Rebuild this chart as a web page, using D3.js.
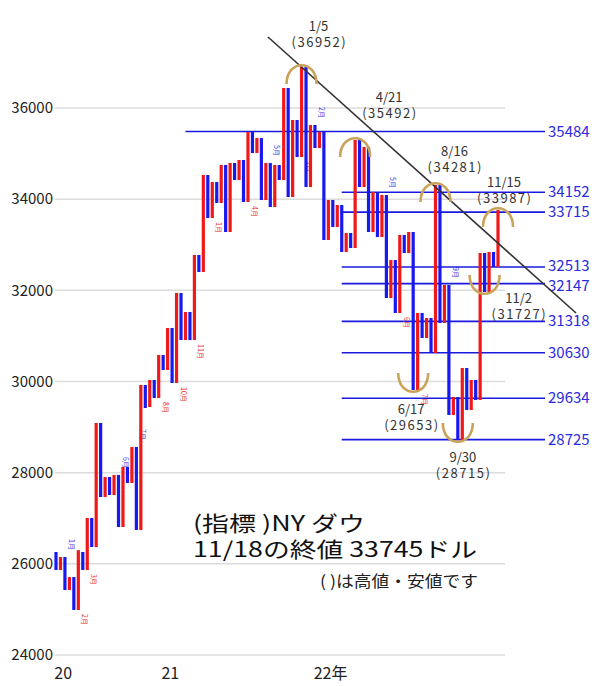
<!DOCTYPE html>
<html><head><meta charset="utf-8">
<script src="https://cdn.jsdelivr.net/npm/d3@7"></script>
<style>body{margin:0;background:#fff}svg{display:block}</style>
</head><body><svg id="c" width="600" height="686"></svg>
<script>
// bar colours: B = down leg (blue), R = up leg (red)
const barType = ["B","R","B","R","B","R","B","R","B","R","B","R","B","R","B","R","B","R","B","R",
"B","R","B","R","B","R","B","R","B","R","B","R","B","R","B","R","B","R","B","R",
"B","R","B","R","B","R","B","R","B","R","B","R","B","R","B","R","B","R","B","R",
"B","R","B","R","B","R","B","R","B","R","B","R","B","R","B","R","B","R","B","R",
"B","R","B","R","B","R","B","R","B","R","B","R","B","R","B","R","B","R","B","R"];
const barHigh = [26260,26150,26150,25710,25710,26300,26260,27005,27005,29090,
29090,27905,27905,27950,27950,28124,28124,28563,28563,29923,
29923,30033,30033,30581,30581,31174,31174,31941,31941,31525,
31525,32775,32775,34530,34530,34377,34377,34750,34750,34793,
34793,34859,34859,35473,35473,35342,35342,34793,34793,34750,
34750,36439,36439,35737,35737,36900,36900,35627,35627,35473,
35473,33982,33982,33872,33872,33258,33258,35298,35298,35144,
35144,34157,34157,34091,34091,32665,32665,33214,33214,33280,
33280,31503,31503,31393,31393,34311,34311,32117,32117,29660,
29660,30296,30296,30033,30033,32819,32819,32841,32841,33762];
const barLow = [25865,25865,25426,25426,24987,24987,25865,25865,26369,26369,
27466,27466,27510,27510,26808,26808,27773,27773,26742,26742,
29419,29441,29638,29638,30252,30252,29967,29967,30910,30910,
30910,30910,32402,32402,33587,33587,33916,33916,33280,33280,
34420,34420,33938,33938,35013,35013,33982,33982,33828,33828,
34420,34420,34047,34047,34925,34925,34267,34267,35122,35122,
33104,33104,33389,33389,32841,32841,32929,32929,34267,34267,
33280,33280,33170,33170,31832,31832,31503,31503,32819,32819,
29813,29813,30954,30954,30625,30625,31283,31283,29265,29265,
28717,28717,29375,29375,29594,29594,31963,31963,32512,32512];

// small month markers written along some bars (bar index, text)
const markIdx = [2,5,7,14,18,23,27,31,35,43,48,55,58,74,77,81,88];
const markText = ["1月","2月","3月","6月","7月","8月","10月","11月","1月","4月","5月","1月","2月","5月","6月","7月","9月"];

const yTicks = [24000,26000,28000,30000,32000,34000,36000];
const xLabels = ["20","21","22年"];
const xLabelPos = [1.6, 25.6, 61.5];

const levels = [35484,34152,33715,32513,32147,31318,30630,29634,28725];
const levelStart = [29,64,64,64,64,64,64,64,64];

const peakLabels = ["1/5","4/21","8/16","11/15"];
const peakValues = ["(36952)","(35492)","(34281)","(33987)"];
const peakIdx = [55,67,85,99];
const troughLabels = ["6/17","9/30","11/2"];
const troughValues = ["(29653)","(28715)","(31727)"];
const troughIdx = [80,90,96];

const titleLines = ["(指標 )NY ダウ","11/18の終値 33745ドル"];
const titleWidths = [172, 284];
const noteText = "( )は高値・安値です";

const svg = d3.select("#c");
const x = d3.scaleLinear().domain([0, 99]).range([56, 498]);
const y = d3.scaleLinear().domain([24000, 36000]).range([655, 108]);
const font = "'Noto Sans CJK JP','Noto Sans',sans-serif";

// grid
svg.append("g").selectAll("line").data(yTicks).join("line")
  .attr("x1", 55).attr("x2", 505).attr("y1", d=>y(d)).attr("y2", d=>y(d))
  .attr("stroke", "#dcdcdc").attr("stroke-width", 1.5);

// y axis
const ya = d3.axisLeft(y).tickValues(yTicks).tickSize(0).tickPadding(0).tickFormat(d3.format("d"));
const yg = svg.append("g").attr("transform","translate(53,0)").call(ya);
yg.select(".domain").remove();
yg.selectAll("text").attr("font-family", font).attr("font-size", 15).attr("fill","#222");

// x labels
svg.append("g").selectAll("text").data(xLabels).join("text")
  .attr("x", (d,i)=>x(xLabelPos[i])).attr("y", 679).attr("text-anchor","middle")
  .attr("font-family", font).attr("font-size", 16).attr("fill","#222").text(d=>d);

// level lines
const lv = svg.append("g");
lv.selectAll("line").data(levels).join("line")
  .attr("x1",(d,i)=>x(levelStart[i])).attr("x2",545)
  .attr("y1",d=>y(d)).attr("y2",d=>y(d))
  .attr("stroke","#1a1adf").attr("stroke-width",1.6);
lv.selectAll("text").data(levels).join("text")
  .attr("x",548).attr("y",(d,i)=>y(d)+5 + (i===3?-1:0) + (i===4?2:0)).attr("font-family",font).attr("font-size",15)
  .attr("fill","#2a2ae0").text(d=>d);

// month markers (tiny vertical text)
const mk = svg.append("g").attr("font-family",font).attr("font-size",7);
markIdx.forEach((k,i)=>{
  const red = barType[k]==="R";
  const px = x(k) + 4, py = red ? y(barLow[k]) + 4 : y(barHigh[k]) - 4 - markText[i].length*7;
  mk.append("text").attr("transform",`translate(${px},${py}) rotate(90)`)
    .attr("fill", red ? "#e83030" : "#3a3ae8").text(markText[i]);
});

// bars
svg.append("g").selectAll("rect").data(barHigh).join("rect")
  .attr("x",(d,i)=>x(i)-1.6).attr("width",3.2)
  .attr("y",(d,i)=>y(d)).attr("height",(d,i)=>Math.max(1,y(barLow[i])-y(d)))
  .attr("fill",(d,i)=>barType[i]==="R"?"#f01818":"#1818f0");

// trend line
svg.append("line").attr("x1",268).attr("y1",37).attr("x2",576).attr("y2",313)
  .attr("stroke","#333").attr("stroke-width",1.6);

// arcs
const arcCol = "#c9a35a";
function cap(cx, cy, up){
  const r = 15;
  const p = up ? `M${cx-r},${cy+12} C${cx-r},${cy-13} ${cx+r},${cy-13} ${cx+r},${cy+12}`
               : `M${cx-r},${cy-12} C${cx-r},${cy+13} ${cx+r},${cy+13} ${cx+r},${cy-12}`;
  svg.append("path").attr("d",p).attr("fill","none").attr("stroke",arcCol).attr("stroke-width",2.6);
}
peakIdx.forEach((k,i)=>cap(x(k), y(barHigh[k])+5, true));
troughIdx.forEach((k,i)=>cap(x(k), y(barLow[k])-5, false));

// annotations (two-line labels as single text elements)
const ann = svg.append("g").attr("font-family",font).attr("font-size",13).attr("fill","#333").attr("text-anchor","middle");
function twoLine(px, py, a, b){
  const t = ann.append("text").attr("x",px).attr("y",py);
  t.append("tspan").attr("x",px).attr("y",py).text(a);
  t.append("tspan").attr("x",px).attr("y",py+16).attr("textLength",54).text(b);
}
const peakOff = [[17,-36],[34,-38],[19,-29],[6,-23]];
peakIdx.forEach((k,i)=>twoLine(x(k)+peakOff[i][0], y(barHigh[k])+peakOff[i][1], peakLabels[i], peakValues[i]));
const troughOff = [[-2,24],[5,22],[34,11]];
troughIdx.forEach((k,i)=>twoLine(x(k)+troughOff[i][0], y(barLow[k])+troughOff[i][1], troughLabels[i], troughValues[i]));

// title
const tt = svg.append("text").attr("font-family",font).attr("font-size",21).attr("fill","#111");
titleLines.forEach((d,i)=>tt.append("tspan").attr("x",193).attr("y",531+i*26)
  .attr("textLength",titleWidths[i]).attr("lengthAdjust","spacingAndGlyphs").text(d));
svg.append("text").attr("x",320).attr("y",587).attr("font-family",font).attr("font-size",16)
  .attr("textLength",158).attr("lengthAdjust","spacingAndGlyphs")
  .attr("fill","#222").text(noteText);
</script></body></html>
